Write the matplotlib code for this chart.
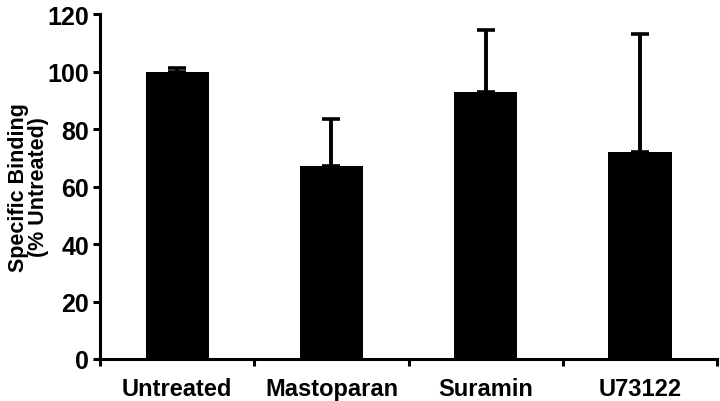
import matplotlib.pyplot as plt
import numpy as np

plt.rcParams['font.family'] = ['Liberation Sans', 'DejaVu Sans']
plt.rcParams['font.weight'] = 'bold'

treatments = ['Untreated', 'Mastoparan', 'Suramin', 'U73122']
binding = [100, 67, 93, 72]
err_up = [1.2, 16.5, 21.4, 41]

fig = plt.figure(figsize=(7.2, 4.02), dpi=100)
ax = fig.add_axes([0.139, 0.1045, 0.857, 0.858])

x = np.arange(len(treatments))
ax.bar(x, binding, width=0.41, color='black', zorder=2)
ax.errorbar(x, binding, yerr=[np.zeros(len(err_up)), err_up], fmt='none',
            ecolor='black', elinewidth=2.8, capsize=6.5, capthick=2.6, zorder=3)

ax.set_xlim(-0.5, 3.5)
ax.set_ylim(0, 120)
ax.set_yticks(np.arange(0, 121, 20))
ax.set_xticks(x)
ax.set_xticklabels(treatments)
ax.set_xticks(np.arange(-0.5, 3.6, 1), minor=True)

for s in ['top', 'right']:
    ax.spines[s].set_visible(False)
for s in ['left', 'bottom']:
    ax.spines[s].set_linewidth(2.2)

ax.tick_params(axis='y', which='major', length=5, width=2.2, labelsize=18, pad=3)
ax.tick_params(axis='x', which='major', length=0, labelsize=17, pad=13)
ax.tick_params(axis='x', which='minor', length=5, width=2.2)

ax.set_ylabel('Specific Binding\n(% Untreated)', fontsize=15.5, fontweight='bold',
              linespacing=0.9)
ax.yaxis.set_label_coords(-0.083, 0.5)

fig.savefig('out.png', dpi=100)
